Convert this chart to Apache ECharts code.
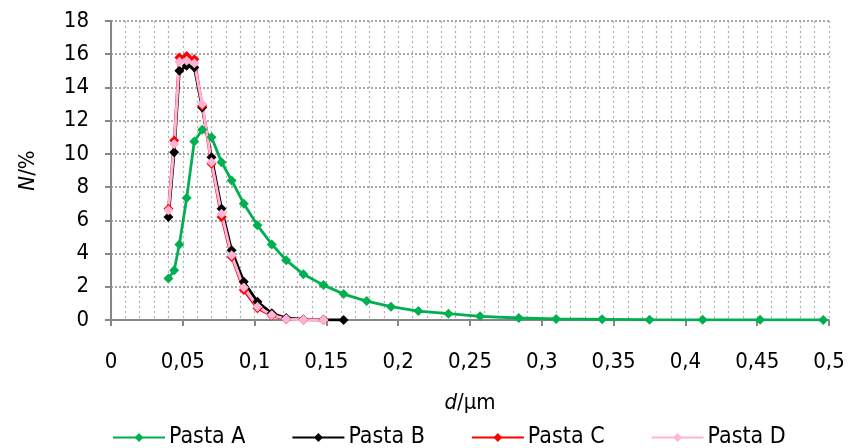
<!DOCTYPE html>
<html>
<head>
<meta charset="utf-8">
<script src="https://cdn.jsdelivr.net/npm/echarts@6/dist/echarts.min.js"></script>
<style>
html,body{margin:0;padding:0;background:#fff;}
#chart{width:848px;height:448px;}
</style>
</head>
<body>
<div id="chart"></div>
<script>
// Diameters (µm) of the size classes
var dA = [0.040,0.044,0.0476,0.0527,0.058,0.0635,0.070,0.077,0.084,0.0925,0.102,0.112,0.122,0.134,0.148,0.162,0.178,0.195,0.214,0.235,0.257,0.284,0.310,0.342,0.375,0.412,0.452,0.496];
var nA = [2.5,3.0,4.55,7.35,10.75,11.45,11.0,9.5,8.4,7.0,5.7,4.55,3.6,2.75,2.1,1.56,1.14,0.8,0.54,0.38,0.22,0.12,0.06,0.04,0.02,0.01,0.01,0.005];
var dB = [0.040,0.044,0.0476,0.0527,0.058,0.0635,0.070,0.077,0.084,0.0925,0.102,0.112,0.122,0.134,0.148,0.162];
var nB = [6.2,10.1,15.0,15.3,15.2,12.8,9.8,6.7,4.2,2.3,1.1,0.4,0.12,0.03,0.01,0.0];
var dC = [0.040,0.044,0.0476,0.0527,0.058,0.0635,0.070,0.077,0.084,0.0925,0.102,0.112,0.122,0.134,0.148];
var nC = [6.7,10.8,15.8,15.9,15.7,12.9,9.4,6.2,3.8,1.8,0.7,0.25,0.05,0.01,0.0];
var dD = [0.040,0.044,0.0476,0.0527,0.058,0.0635,0.070,0.077,0.084,0.0925,0.102,0.112,0.122,0.134,0.148];
var nD = [6.6,10.6,15.55,15.6,15.45,13.0,9.5,6.4,3.9,1.95,0.8,0.3,0.06,0.01,0.0];
var seriesNames = ['Pasta A','Pasta B','Pasta C','Pasta D'];
var colors = ['#00B050','#000000','#FF0000','#FFB3D6'];

function pairs(xs, ys){ return xs.map(function(x,i){ return [x, ys[i]]; }); }
var allData = [pairs(dA,nA), pairs(dB,nB), pairs(dC,nC), pairs(dD,nD)];

var FONT = '"DejaVu Sans Condensed", "DejaVu Sans", sans-serif';
var FS = 22;
var chart = echarts.init(document.getElementById('chart'), null, {renderer:'canvas'});
var option = {
  animation:false,
  backgroundColor:'#fff',
  textStyle:{fontFamily:FONT, color:'#000'},
  grid:{left:111, right:19, top:21, bottom:128, containLabel:false},
  legend:{
    top:421, left:107,
    itemWidth:52, itemHeight:11, itemGap:46,
    textStyle:{fontFamily:FONT, fontSize:23, color:'#000', padding:[0,0,0,-1]},
    data:seriesNames
  },
  xAxis:{
    type:'value', min:0, max:0.5, interval:0.05,
    name:'{i|d}/µm', nameLocation:'middle', nameGap:72,
    nameTextStyle:{fontFamily:FONT, fontSize:FS, color:'#000', rich:{i:{fontStyle:'italic', fontFamily:FONT, fontSize:FS}}},
    axisLine:{lineStyle:{color:'#868686', width:2}},
    axisTick:{show:true, length:6, lineStyle:{color:'#868686', width:2}},
    axisLabel:{fontFamily:FONT, fontSize:FS, color:'#000', margin:31,
      formatter:function(v){ return String(+v.toFixed(2)).replace('.', ','); }},
    splitLine:{show:true, lineStyle:{color:'#b0b0b0', type:[2,3], width:1.2}},
    minorTick:{show:false, splitNumber:5},
    minorSplitLine:{show:true, lineStyle:{color:'#b0b0b0', type:[2,3], width:1.2}}
  },
  yAxis:{
    type:'value', min:0, max:18, interval:2,
    name:'{i|N}/%', nameLocation:'middle', nameGap:72, nameRotate:90,
    nameTextStyle:{fontFamily:FONT, fontSize:FS, color:'#000', rich:{i:{fontStyle:'italic', fontFamily:FONT, fontSize:FS}}},
    axisLine:{show:true, lineStyle:{color:'#868686', width:2}},
    axisTick:{show:true, length:6, lineStyle:{color:'#868686', width:2}},
    axisLabel:{fontFamily:FONT, fontSize:FS, color:'#000', margin:22},
    splitLine:{show:true, lineStyle:{color:'#8c8c8c', type:[2,2], width:1.5}}
  },
  series: seriesNames.map(function(n, i){
    return {
      name:n, type:'line', data:allData[i],
      symbol:'diamond', symbolSize:10,
      color:colors[i],
      lineStyle:{width:2.8, color:colors[i]},
      itemStyle:{color:colors[i]}
    };
  })
};
chart.setOption(option);
</script>
</body>
</html>
